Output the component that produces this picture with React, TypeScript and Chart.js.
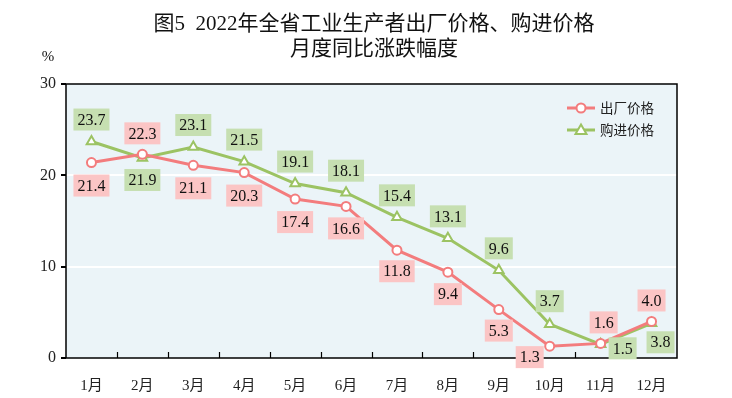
import React, { useEffect, useRef } from "react";
import { Chart, registerables } from "chart.js";

Chart.register(...registerables);

const months = ["1月", "2月", "3月", "4月", "5月", "6月", "7月", "8月", "9月", "10月", "11月", "12月"];
const factoryPrices = [21.4, 22.3, 21.1, 20.3, 17.4, 16.6, 11.8, 9.4, 5.3, 1.3, 1.6, 4.0];
const purchasePrices = [23.7, 21.9, 23.1, 21.5, 19.1, 18.1, 15.4, 13.1, 9.6, 3.7, 1.5, 3.8];
const yTicks = [0, 10, 20, 30];
const titleLines = ["图5  2022年全省工业生产者出厂价格、购进价格", "月度同比涨跌幅度"];
const seriesNames = ["出厂价格", "购进价格"];

// label placement (pixels relative to the point)
const factoryLabelOffsets = [[0, 23], [0, -21], [0, 23], [0, 23], [0, 23], [0, 22], [0, 21], [0, 22], [0, 21], [-20, 11], [3, -21], [0, -21]];
const purchaseLabelOffsets = [[0, -22], [0, 22], [0, -22], [0, -22], [0, -22], [0, -22], [0, -22], [0, -22], [0, -22], [0, -23], [22, 4], [9, 19]];

const PINK = "#F37C7D";
const GREEN = "#9CC363";
const PINK_BG = "#FBC5C5";
const GREEN_BG = "#C6DFB1";
const PLOT_BG = "#EBF4F8";
const SERIF = "'Liberation Serif', 'Noto Sans CJK SC', serif";

const overlay = {
  id: "overlay",
  beforeDraw(chart: any) {
    const { ctx, chartArea: a } = chart;
    ctx.save();
    ctx.fillStyle = PLOT_BG;
    ctx.fillRect(a.left, a.top, a.right - a.left, a.bottom - a.top);
    ctx.restore();
  },
  afterDraw(chart: any) {
    const { ctx, chartArea: a } = chart;
    ctx.save();
    // plot border
    ctx.strokeStyle = "#000";
    ctx.lineWidth = 1.5;
    ctx.strokeRect(a.left, a.top, a.right - a.left, a.bottom - a.top);
    // inward x ticks at category boundaries
    const n = months.length;
    const step = (a.right - a.left) / n;
    ctx.lineWidth = 1.2;
    for (let i = 1; i < n; i++) {
      const x = Math.round(a.left + step * i) + 0.5;
      ctx.beginPath();
      ctx.moveTo(x, a.bottom);
      ctx.lineTo(x, a.bottom - 6);
      ctx.stroke();
    }
    // data labels
    ctx.font = `16px ${SERIF}`;
    ctx.textAlign = "center";
    ctx.textBaseline = "middle";
    const sets = [
      { meta: chart.getDatasetMeta(0), vals: factoryPrices, offs: factoryLabelOffsets, bg: PINK_BG },
      { meta: chart.getDatasetMeta(1), vals: purchasePrices, offs: purchaseLabelOffsets, bg: GREEN_BG },
    ];
    sets.forEach((s) => {
      s.meta.data.forEach((pt: any, i: number) => {
        const txt = s.vals[i].toFixed(1);
        const cx = pt.x + s.offs[i][0];
        const cy = pt.y + s.offs[i][1];
        const w = ctx.measureText(txt).width + 8;
        const h = 22;
        ctx.fillStyle = s.bg;
        ctx.fillRect(cx - w / 2, cy - h / 2, w, h);
        ctx.fillStyle = "#111";
        ctx.fillText(txt, cx, cy + 1);
      });
    });
    // title
    ctx.fillStyle = "#111";
    ctx.textAlign = "center";
    ctx.textBaseline = "middle";
    ctx.font = `21px ${SERIF}`;
    ctx.fillText(titleLines[0], 374, 24);
    ctx.fillText(titleLines[1], 374, 49);
    // unit
    ctx.font = `15px ${SERIF}`;
    ctx.fillText("%", 48, 57);
    // legend
    const items = [
      { name: seriesNames[0], color: PINK, y: 108, shape: "circle" },
      { name: seriesNames[1], color: GREEN, y: 130, shape: "triangle" },
    ];
    items.forEach((it) => {
      ctx.strokeStyle = it.color;
      ctx.lineWidth = 3;
      ctx.beginPath();
      ctx.moveTo(567, it.y);
      ctx.lineTo(595, it.y);
      ctx.stroke();
      ctx.fillStyle = "#fff";
      ctx.lineWidth = 2;
      ctx.beginPath();
      if (it.shape === "circle") {
        ctx.arc(581, it.y, 4.5, 0, Math.PI * 2);
      } else {
        ctx.moveTo(581, it.y - 5.5);
        ctx.lineTo(586.5, it.y + 4);
        ctx.lineTo(575.5, it.y + 4);
        ctx.closePath();
      }
      ctx.fill();
      ctx.stroke();
      ctx.fillStyle = "#222";
      ctx.textAlign = "left";
      ctx.font = `13.5px 'Noto Sans CJK SC', sans-serif`;
      ctx.fillText(it.name, 600, it.y);
    });
    ctx.restore();
  },
};

export default function App() {
  const ref = useRef<HTMLCanvasElement>(null);
  useEffect(() => {
    if (!ref.current) return;
    const chart = new Chart(ref.current, {
      type: "line",
      data: {
        labels: months,
        datasets: [
          {
            label: seriesNames[0],
            data: factoryPrices,
            borderColor: PINK,
            borderWidth: 3,
            pointStyle: "circle",
            pointRadius: 4.5,
            pointBorderWidth: 2,
            pointBackgroundColor: "#fff",
            pointBorderColor: PINK,
            tension: 0,
          },
          {
            label: seriesNames[1],
            data: purchasePrices,
            borderColor: GREEN,
            borderWidth: 3,
            pointStyle: "triangle",
            pointRadius: 5.5,
            pointBorderWidth: 2,
            pointBackgroundColor: "#fff",
            pointBorderColor: GREEN,
            tension: 0,
          },
        ],
      },
      options: {
        animation: false,
        responsive: false,
        layout: { padding: { left: 0, right: 55, top: 84, bottom: 0 } },
        plugins: { legend: { display: false }, title: { display: false }, tooltip: { enabled: false } },
        scales: {
          x: {
            offset: true,
            grid: { display: false },
            border: { display: false },
            ticks: { color: "#222", font: { family: SERIF, size: 15 }, padding: 11, maxRotation: 0 },
            afterFit: (s: any) => { s.height = 40; },
          },
          y: {
            min: 0,
            max: 30,
            afterBuildTicks: (s: any) => { s.ticks = yTicks.map((v) => ({ value: v })); },
            grid: {
              color: (c: any) => (c.tick && (c.tick.value === 10 || c.tick.value === 20) ? "#ffffff" : "rgba(0,0,0,0)"),
              lineWidth: 2,
              tickColor: "#000",
              tickLength: 5,
              drawTicks: true,
            },
            border: { display: false },
            ticks: { color: "#222", font: { family: SERIF, size: 16 }, padding: 5 },
            afterFit: (s: any) => { s.width = 66; },
          },
        },
      },
      plugins: [overlay],
    });
    return () => chart.destroy();
  }, []);
  return (
    <div style={{ position: "fixed", left: 0, top: 0, width: 732, height: 398, background: "#fff" }}>
      <canvas ref={ref} width={732} height={398} style={{ width: 732, height: 398 }} />
    </div>
  );
}
